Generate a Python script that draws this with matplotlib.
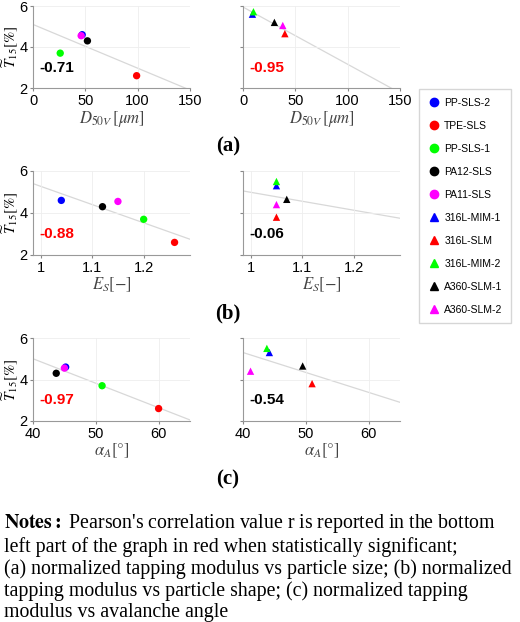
import matplotlib
matplotlib.use("Agg")
import matplotlib.pyplot as plt
from matplotlib.lines import Line2D

plt.rcParams['font.family'] = ['Liberation Sans', 'DejaVu Sans']
plt.rcParams['mathtext.fontset'] = 'stix'

poly_names = ['PP-SLS-2', 'TPE-SLS', 'PP-SLS-1', 'PA12-SLS', 'PA11-SLS']
metal_names = ['316L-MIM-1', '316L-SLM', '316L-MIM-2', 'A360-SLM-1', 'A360-SLM-2']
colors = ['#0000ff', '#ff0000', '#00ff00', '#000000', '#ff00ff']
poly_T = [4.6, 2.6, 3.7, 4.3, 4.55]
metal_T = [5.6, 4.65, 5.72, 5.2, 5.05]
metal_T_b = [5.3, 3.8, 5.5, 4.65, 4.4]

poly_D = [47, 99, 26, 52, 46]
metal_D = [9, 40, 10, 30, 38]
poly_E = [1.04, 1.26, 1.2, 1.12, 1.15]
metal_E = [1.05, 1.05, 1.05, 1.07, 1.05]
poly_A = [45.2, 60, 51, 43.7, 45]
metal_A = [44.2, 51, 43.8, 49.5, 41.2]

fits = {  # (x0, y0, x1, y1)
    'a0': (0, 5.1, 150, 1.9), 'a1': (0, 5.95, 145, 1.9),
    'b0': (0.985, 5.4, 1.29, 2.75), 'b1': (0.985, 5.05, 1.29, 3.75),
    'c0': (40, 5.0, 65, 2.05), 'c1': (40, 5.3, 65, 2.9),
}
rvals = {'a0': ('-0.71', 'k'), 'a1': ('-0.95', 'r'), 'b0': ('-0.88', 'r'),
         'b1': ('-0.06', 'k'), 'c0': ('-0.97', 'r'), 'c1': ('-0.54', 'k')}

W, H = 520, 622
fig = plt.figure(figsize=(W/100, H/100), dpi=100)

def ax_at(x0, y0, x1, y1):
    return fig.add_axes([x0/W, 1-y1/H, (x1-x0)/W, (y1-y0)/H])

rows = [(6, 88, 'a', poly_D, metal_D, metal_T, (0, 150), [0, 50, 100, 150], r'$D_{50V}\,[\mu m]$'),
        (171, 255, 'b', poly_E, metal_E, metal_T_b, (0.985, 1.29), [1, 1.1, 1.2], r'$E_S[-]$'),
        (338, 421, 'c', poly_A, metal_A, metal_T_b, (40, 65), [40, 50, 60], r'$\alpha_A[°]$')]
for (y0, y1, key, px, mx, mT, xl, xt, xlab) in rows:
    for j, (x0, x1) in enumerate([(33, 190), (243, 400)]):
        ax = ax_at(x0, y0, x1, y1)
        xs = px if j == 0 else mx
        ys = poly_T if j == 0 else mT
        marker = 'o' if j == 0 else '^'
        f = fits[key + str(j)]
        ax.plot([f[0], f[2]], [f[1], f[3]], color='#d8d8d8', lw=0.9, zorder=1)
        for xv, yv, c in zip(xs, ys, colors):
            ax.scatter(xv, yv, color=c, marker=marker, s=28, zorder=3, edgecolors='none')
        ax.set_xlim(*xl); ax.set_ylim(2, 6)
        ax.set_xticks(xt)
        ax.set_xticklabels([('%g' % v) for v in xt])
        ax.set_yticks([2, 4, 6])
        ax.grid(True, color='#eeeeee', lw=0.6)
        if j == 1:
            ax.set_yticklabels([])
        else:
            ax.set_ylabel(r'$\widetilde{T}_{15}[\%]$', fontsize=11, labelpad=-1)
        ax.tick_params(labelsize=10.5, length=2, color='#888888', pad=2)
        for s in ['top', 'right']:
            ax.spines[s].set_visible(False)
        for s in ['left', 'bottom']:
            ax.spines[s].set_color('#999999')
        ax.set_xlabel(xlab, fontsize=12, color='#444444', labelpad=1)
        t, c = rvals[key + str(j)]
        ax.text(0.04, 0.25, t, transform=ax.transAxes, color=c, fontsize=11,
                fontweight='bold', va='center')
    fig.text(228/W, 1-(y1+58)/H, '(%s)' % key, fontsize=15, fontweight='bold',
             family='Liberation Serif', ha='center', va='center')

handles = []
for n, c in zip(poly_names, colors):
    handles.append(Line2D([], [], marker='o', ls='none', color=c, markersize=6, label=n))
for n, c in zip(metal_names, colors):
    handles.append(Line2D([], [], marker='^', ls='none', color=c, markersize=6, label=n))
fig.legend(handles=handles, loc='upper left', bbox_to_anchor=(414/W, 1-84/H),
           fontsize=7.5, frameon=True, edgecolor='#cccccc', fancybox=False,
           labelspacing=1.25, handletextpad=0.4, borderpad=0.8, handlelength=1.2)

notes = ("$\\mathbf{Notes:}$ Pearson's correlation value r is reported in the bottom\n"
         "left part of the graph in red when statistically significant;\n"
         "(a) normalized tapping modulus vs particle size; (b) normalized\n"
         "tapping modulus vs particle shape; (c) normalized tapping\n"
         "modulus vs avalanche angle")
fig.text(4/W, 1-512/H, notes, fontsize=14.3, family='Liberation Serif', va='top',
         linespacing=1.15)

fig.savefig('out.png', dpi=100)
